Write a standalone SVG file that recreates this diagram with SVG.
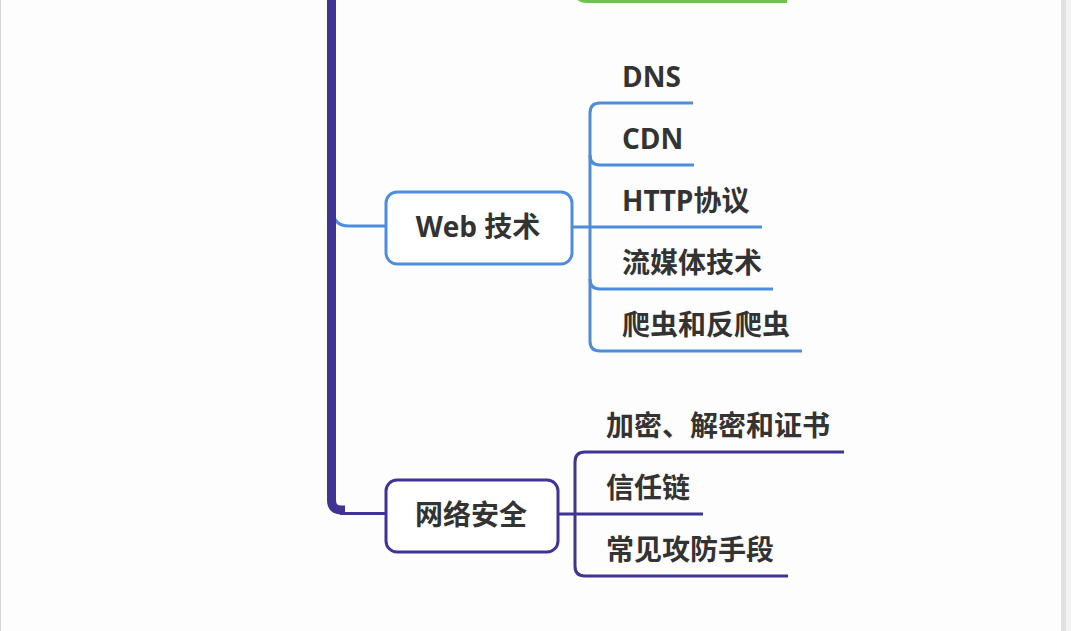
<svg xmlns="http://www.w3.org/2000/svg" width="1071" height="631" viewBox="0 0 1071 631">
  <style>
    .bg { fill: #fdfdfd; }
    .t { font-family: "Open Sans", "Noto Sans CJK SC", sans-serif; font-weight: bold; font-size: 28px; fill: #333333; }
    .blue { fill: none; stroke: #4d8ddb; stroke-width: 3; stroke-linecap: butt; }
    .purple { fill: none; stroke: #3f3494; stroke-width: 3; }
    .green { fill: none; stroke: #6cc251; stroke-width: 4; }
    .nodeB { fill: #ffffff; stroke: #4d8ddb; stroke-width: 3; }
    .nodeP { fill: #ffffff; stroke: #3f3494; stroke-width: 3; }
  </style>
  <rect class="bg" x="0" y="0" width="1071" height="631"/>
  <rect x="0" y="0" width="1" height="631" fill="#d6d6d6"/>
  <rect x="1061" y="0" width="5" height="631" fill="#e2e2e2"/>
  <rect x="1066" y="0" width="5" height="631" fill="#f2f2f0"/>

  <g id="connectors">
    <path class="green" d="M 576 -40 V -10 Q 576 1 587 1 H 787"/>
    <path class="blue" d="M 333 210 Q 333 226 349 226 H 386"/>
    <path class="purple" d="M 340 513.5 H 386"/>
    <path class="blue" d="M 693 103 H 600 Q 590 103 590 113 V 341 Q 590 351 600 351 H 802"/>
    <path class="blue" d="M 590 155 Q 590 165 600 165 H 694"/>
    <path class="blue" d="M 572 227 H 762"/>
    <path class="blue" d="M 590 279 Q 590 289 600 289 H 773"/>
    <path class="purple" d="M 844 452 H 585 Q 575 452 575 462 V 566 Q 575 576 585 576 H 788"/>
    <path class="purple" d="M 558 514 H 703"/>
    <path d="M 331.5 -10 V 500 Q 331.5 510 341.5 510 H 345" fill="none" stroke="#3f3494" stroke-width="9"/>
  </g>

  <g id="node-web">
    <rect class="nodeB" x="386" y="192" width="186" height="72" rx="11"/>
    <text class="t" x="478" y="237" text-anchor="middle">Web 技术</text>
  </g>
  <g id="node-dns"><text class="t" x="622" y="87">DNS</text></g>
  <g id="node-cdn"><text class="t" x="622" y="149">CDN</text></g>
  <g id="node-http"><text class="t" x="622" y="211">HTTP协议</text></g>
  <g id="node-stream"><text class="t" x="622" y="273">流媒体技术</text></g>
  <g id="node-crawler"><text class="t" x="622" y="335">爬虫和反爬虫</text></g>

  <g id="node-security">
    <rect class="nodeP" x="386" y="480" width="172" height="72" rx="11"/>
    <text class="t" x="471" y="525" text-anchor="middle">网络安全</text>
  </g>
  <g id="node-crypto"><text class="t" x="606" y="436">加密、解密和证书</text></g>
  <g id="node-trust"><text class="t" x="606" y="498">信任链</text></g>
  <g id="node-attack"><text class="t" x="606" y="560">常见攻防手段</text></g>
</svg>
